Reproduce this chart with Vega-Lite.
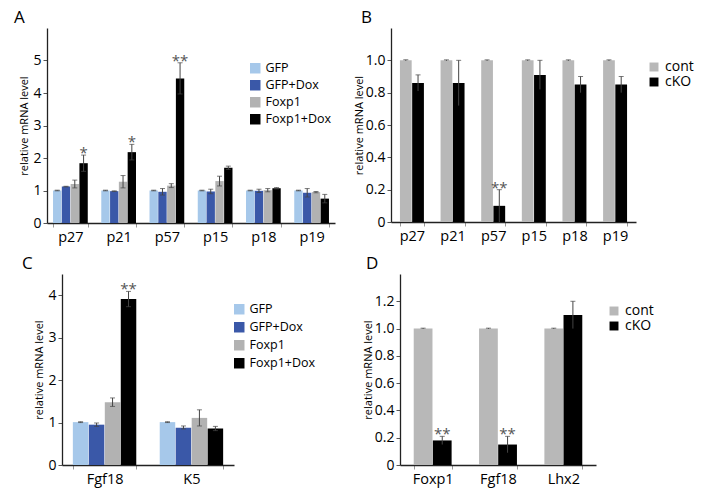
{
  "$schema": "https://vega.github.io/schema/vega-lite/v6.json",
  "padding": {"left": 13, "top": 9, "right": 5, "bottom": 5},
  "background": "white",
  "config": {
    "font": "Open Sans",
    "view": {"stroke": null},
    "title": {"fontSize": 17, "fontWeight": "normal", "anchor": "start", "frame": "group", "offset": 1, "color": "#000"},
    "axis": {"grid": false, "domainColor": "#222", "domainWidth": 1.3, "tickColor": "#555", "tickSize": 4, "labelFontSize": 14, "labelColor": "#000", "titleFontSize": 11, "titleFontWeight": "normal", "titleColor": "#000", "labelPadding": 2},
    "axisX": {"tickColor": "#999", "labelPadding": 3},
    "legend": {"labelFontSize": 12.5, "labelColor": "#000", "symbolType": "square", "symbolSize": 110, "symbolStrokeWidth": 0, "rowPadding": 4, "labelOffset": 4, "padding": 0}
  },
  "datasets": {
    "a": [
      {"gene": "p27", "group": "GFP", "value": 1.0, "lo": 0.99, "hi": 1.01},
      {"gene": "p27", "group": "GFP+Dox", "value": 1.12, "lo": 1.11, "hi": 1.13},
      {"gene": "p27", "group": "Foxp1", "value": 1.2, "lo": 1.08, "hi": 1.32},
      {"gene": "p27", "group": "Foxp1+Dox", "value": 1.84, "lo": 1.59, "hi": 2.09, "sig": "*"},
      {"gene": "p21", "group": "GFP", "value": 1.0, "lo": 0.99, "hi": 1.01},
      {"gene": "p21", "group": "GFP+Dox", "value": 0.98, "lo": 0.97, "hi": 0.99},
      {"gene": "p21", "group": "Foxp1", "value": 1.27, "lo": 1.08, "hi": 1.46},
      {"gene": "p21", "group": "Foxp1+Dox", "value": 2.18, "lo": 1.94, "hi": 2.42, "sig": "*"},
      {"gene": "p57", "group": "GFP", "value": 1.0, "lo": 0.99, "hi": 1.01},
      {"gene": "p57", "group": "GFP+Dox", "value": 0.96, "lo": 0.86, "hi": 1.06},
      {"gene": "p57", "group": "Foxp1", "value": 1.15, "lo": 1.09, "hi": 1.21},
      {"gene": "p57", "group": "Foxp1+Dox", "value": 4.45, "lo": 3.97, "hi": 4.93, "sig": "**"},
      {"gene": "p15", "group": "GFP", "value": 1.0, "lo": 0.99, "hi": 1.01},
      {"gene": "p15", "group": "GFP+Dox", "value": 0.97, "lo": 0.9, "hi": 1.04},
      {"gene": "p15", "group": "Foxp1", "value": 1.29, "lo": 1.14, "hi": 1.44},
      {"gene": "p15", "group": "Foxp1+Dox", "value": 1.7, "lo": 1.65, "hi": 1.75},
      {"gene": "p18", "group": "GFP", "value": 1.0, "lo": 0.99, "hi": 1.01},
      {"gene": "p18", "group": "GFP+Dox", "value": 0.99, "lo": 0.94, "hi": 1.04},
      {"gene": "p18", "group": "Foxp1", "value": 1.01, "lo": 0.96, "hi": 1.06},
      {"gene": "p18", "group": "Foxp1+Dox", "value": 1.07, "lo": 1.05, "hi": 1.09},
      {"gene": "p19", "group": "GFP", "value": 1.0, "lo": 0.99, "hi": 1.01},
      {"gene": "p19", "group": "GFP+Dox", "value": 0.93, "lo": 0.8, "hi": 1.06},
      {"gene": "p19", "group": "Foxp1", "value": 0.95, "lo": 0.93, "hi": 0.97},
      {"gene": "p19", "group": "Foxp1+Dox", "value": 0.75, "lo": 0.62, "hi": 0.88}
    ],
    "b": [
      {"gene": "p27", "group": "cont", "value": 1.0, "lo": 0.997, "hi": 1.003},
      {"gene": "p27", "group": "cKO", "value": 0.86, "lo": 0.81, "hi": 0.91},
      {"gene": "p21", "group": "cont", "value": 1.0, "lo": 0.997, "hi": 1.003},
      {"gene": "p21", "group": "cKO", "value": 0.86, "lo": 0.72, "hi": 1.0},
      {"gene": "p57", "group": "cont", "value": 1.0, "lo": 0.997, "hi": 1.003},
      {"gene": "p57", "group": "cKO", "value": 0.1, "lo": 0.0, "hi": 0.2, "sig": "**"},
      {"gene": "p15", "group": "cont", "value": 1.0, "lo": 0.997, "hi": 1.003},
      {"gene": "p15", "group": "cKO", "value": 0.91, "lo": 0.82, "hi": 1.0},
      {"gene": "p18", "group": "cont", "value": 1.0, "lo": 0.997, "hi": 1.003},
      {"gene": "p18", "group": "cKO", "value": 0.85, "lo": 0.8, "hi": 0.9},
      {"gene": "p19", "group": "cont", "value": 1.0, "lo": 0.997, "hi": 1.003},
      {"gene": "p19", "group": "cKO", "value": 0.85, "lo": 0.8, "hi": 0.9}
    ],
    "c": [
      {"gene": "Fgf18", "group": "GFP", "value": 1.01, "lo": 1.0, "hi": 1.02},
      {"gene": "Fgf18", "group": "GFP+Dox", "value": 0.95, "lo": 0.91, "hi": 0.99},
      {"gene": "Fgf18", "group": "Foxp1", "value": 1.48, "lo": 1.38, "hi": 1.58},
      {"gene": "Fgf18", "group": "Foxp1+Dox", "value": 3.91, "lo": 3.73, "hi": 4.09, "sig": "**"},
      {"gene": "K5", "group": "GFP", "value": 1.01, "lo": 1.0, "hi": 1.02},
      {"gene": "K5", "group": "GFP+Dox", "value": 0.88, "lo": 0.85, "hi": 0.92},
      {"gene": "K5", "group": "Foxp1", "value": 1.11, "lo": 0.92, "hi": 1.3},
      {"gene": "K5", "group": "Foxp1+Dox", "value": 0.86, "lo": 0.81, "hi": 0.91}
    ],
    "d": [
      {"gene": "Foxp1", "group": "cont", "value": 1.0, "lo": 0.997, "hi": 1.003},
      {"gene": "Foxp1", "group": "cKO", "value": 0.18, "lo": 0.15, "hi": 0.21, "sig": "**"},
      {"gene": "Fgf18", "group": "cont", "value": 1.0, "lo": 0.997, "hi": 1.003},
      {"gene": "Fgf18", "group": "cKO", "value": 0.15, "lo": 0.09, "hi": 0.21, "sig": "**"},
      {"gene": "Lhx2", "group": "cont", "value": 1.0, "lo": 0.997, "hi": 1.003},
      {"gene": "Lhx2", "group": "cKO", "value": 1.1, "lo": 1.0, "hi": 1.2}
    ]
  },
  "resolve": {"scale": {"color": "independent", "xOffset": "independent", "x": "independent", "y": "independent"}, "legend": {"color": "independent"}},
  "vconcat": [
    {
      "resolve": {"scale": {"color": "independent", "xOffset": "independent", "x": "independent", "y": "independent"}, "legend": {"color": "independent"}},
      "hconcat": [
        {
          "resolve": {"scale": {"color": "independent", "xOffset": "independent", "x": "independent", "y": "independent"}, "legend": {"color": "independent"}},
          "hconcat": [
            {"width": 1, "height": 1, "data": {"values": []}, "mark": "point"},
            {
              "width": 288, "height": 195,
              "title": {"text": "\u00a0\u00a0\u00a0\u00a0A", "dx": -33},
              "data": {"name": "a"},
              "encoding": {
                "x": {"field": "gene", "type": "nominal", "sort": ["p27", "p21", "p57", "p15", "p18", "p19"], "scale": {"paddingInner": 0.28, "paddingOuter": 0.125}, "axis": {"title": null, "labelAngle": 0, "tickBand": "extent", "labelFontSize": 14.5}},
                "xOffset": {"field": "group", "type": "nominal", "sort": ["GFP", "GFP+Dox", "Foxp1", "Foxp1+Dox"], "scale": {"paddingInner": 0.05}}
              },
              "layer": [
                {"mark": {"type": "bar"}, "encoding": {
                  "y": {"field": "value", "type": "quantitative", "scale": {"domain": [0, 6], "nice": false}, "axis": {"values": [0, 1, 2, 3, 4, 5], "title": "relative mRNA level", "titlePadding": 3}},
                  "color": {"field": "group", "type": "nominal", "scale": {"domain": ["GFP", "GFP+Dox", "Foxp1", "Foxp1+Dox"], "range": ["#a6c8ea", "#3a58a8", "#b2b2b2", "#000000"]},
                    "legend": {"title": null, "orient": "none", "legendX": 202, "legendY": 34}}
                }},
                {"mark": {"type": "rule", "color": "#444", "strokeWidth": 1}, "encoding": {"y": {"field": "lo", "type": "quantitative", "axis": {"values": [0, 1, 2, 3, 4, 5], "title": "relative mRNA level", "titlePadding": 3}}, "y2": {"field": "hi"}}},
                {"mark": {"type": "tick", "color": "#444", "thickness": 1, "size": 5}, "encoding": {"y": {"field": "hi", "type": "quantitative", "axis": {"values": [0, 1, 2, 3, 4, 5], "title": "relative mRNA level", "titlePadding": 3}}}},
                {"mark": {"type": "tick", "color": "#444", "thickness": 1, "size": 5}, "encoding": {"y": {"field": "lo", "type": "quantitative", "axis": {"values": [0, 1, 2, 3, 4, 5], "title": "relative mRNA level", "titlePadding": 3}}}},
                {"transform": [{"filter": "datum.sig"}], "mark": {"type": "text", "fontSize": 15, "color": "#555", "baseline": "alphabetic", "dy": 3}, "encoding": {"y": {"field": "hi", "type": "quantitative", "axis": {"values": [0, 1, 2, 3, 4, 5], "title": "relative mRNA level", "titlePadding": 3}}, "text": {"field": "sig"}}}
              ]
            }
          ],
          "spacing": 0
        },
        {
          "width": 245, "height": 194,
          "title": {"text": "B", "dx": -30},
          "data": {"name": "b"},
          "encoding": {
            "x": {"field": "gene", "type": "nominal", "sort": ["p27", "p21", "p57", "p15", "p18", "p19"], "scale": {"paddingInner": 0.41, "paddingOuter": 0.22}, "axis": {"title": null, "labelAngle": 0, "tickBand": "extent", "labelFontSize": 14.5}},
            "xOffset": {"field": "group", "type": "nominal", "sort": ["cont", "cKO"], "scale": {"paddingInner": 0.04}}
          },
          "layer": [
            {"mark": {"type": "bar"}, "encoding": {
              "y": {"field": "value", "type": "quantitative", "scale": {"domain": [0, 1.2], "nice": false}, "axis": {"values": [0, 0.2, 0.4, 0.6, 0.8, 1.0], "labelExpr": "datum.value === 0 ? '0' : format(datum.value, '.1f')", "title": "relative mRNA level", "titlePadding": 1}},
              "color": {"field": "group", "type": "nominal", "scale": {"domain": ["cont", "cKO"], "range": ["#b8b8b8", "#000000"]},
                "legend": {"title": null, "orient": "none", "legendX": 256, "legendY": 32, "labelFontSize": 14, "rowPadding": 1, "symbolSize": 80}}
            }},
            {"mark": {"type": "rule", "color": "#444", "strokeWidth": 1}, "encoding": {"y": {"field": "lo", "type": "quantitative", "axis": {"values": [0, 0.2, 0.4, 0.6, 0.8, 1.0], "labelExpr": "datum.value === 0 ? '0' : format(datum.value, '.1f')", "title": "relative mRNA level", "titlePadding": 1}}, "y2": {"field": "hi"}}},
            {"mark": {"type": "tick", "color": "#444", "thickness": 1, "size": 5}, "encoding": {"y": {"field": "hi", "type": "quantitative", "axis": {"values": [0, 0.2, 0.4, 0.6, 0.8, 1.0], "labelExpr": "datum.value === 0 ? '0' : format(datum.value, '.1f')", "title": "relative mRNA level", "titlePadding": 1}}}},
            {"transform": [{"filter": "datum.sig"}], "mark": {"type": "text", "fontSize": 15, "color": "#555", "baseline": "alphabetic", "dy": 3}, "encoding": {"y": {"field": "hi", "type": "quantitative", "axis": {"values": [0, 0.2, 0.4, 0.6, 0.8, 1.0], "labelExpr": "datum.value === 0 ? '0' : format(datum.value, '.1f')", "title": "relative mRNA level", "titlePadding": 1}}, "text": {"field": "sig"}}}
          ]
        }
      ],
      "spacing": 18
    },
    {
      "resolve": {"scale": {"color": "independent", "xOffset": "independent", "x": "independent", "y": "independent"}, "legend": {"color": "independent"}},
      "hconcat": [
        {
          "resolve": {"scale": {"color": "independent", "xOffset": "independent", "x": "independent", "y": "independent"}, "legend": {"color": "independent"}},
          "hconcat": [
            {"width": 1, "height": 1, "data": {"values": []}, "mark": "point"},
            {
              "width": 172, "height": 191,
              "title": {"text": "C", "dx": -40},
              "data": {"name": "c"},
              "encoding": {
                "x": {"field": "gene", "type": "nominal", "sort": ["Fgf18", "K5"], "scale": {"paddingInner": 0.27, "paddingOuter": 0.125}, "axis": {"title": null, "labelAngle": 0, "tickBand": "extent", "labelFontSize": 14.5}},
                "xOffset": {"field": "group", "type": "nominal", "sort": ["GFP", "GFP+Dox", "Foxp1", "Foxp1+Dox"], "scale": {"paddingInner": 0.03}}
              },
              "layer": [
                {"mark": {"type": "bar"}, "encoding": {
                  "y": {"field": "value", "type": "quantitative", "scale": {"domain": [0, 4.5], "nice": false}, "axis": {"values": [0, 1, 2, 3, 4], "title": "relative mRNA level", "titlePadding": 3}},
                  "color": {"field": "group", "type": "nominal", "scale": {"domain": ["GFP", "GFP+Dox", "Foxp1", "Foxp1+Dox"], "range": ["#a6c8ea", "#3a58a8", "#b2b2b2", "#000000"]},
                    "legend": {"title": null, "orient": "none", "legendX": 171, "legendY": 29, "rowPadding": 5}}
                }},
                {"mark": {"type": "rule", "color": "#444", "strokeWidth": 1}, "encoding": {"y": {"field": "lo", "type": "quantitative", "axis": {"values": [0, 1, 2, 3, 4], "title": "relative mRNA level", "titlePadding": 3}}, "y2": {"field": "hi"}}},
                {"mark": {"type": "tick", "color": "#444", "thickness": 1, "size": 5}, "encoding": {"y": {"field": "hi", "type": "quantitative", "axis": {"values": [0, 1, 2, 3, 4], "title": "relative mRNA level", "titlePadding": 3}}}},
                {"mark": {"type": "tick", "color": "#444", "thickness": 1, "size": 5}, "encoding": {"y": {"field": "lo", "type": "quantitative", "axis": {"values": [0, 1, 2, 3, 4], "title": "relative mRNA level", "titlePadding": 3}}}},
                {"transform": [{"filter": "datum.sig"}], "mark": {"type": "text", "fontSize": 15, "color": "#555", "baseline": "alphabetic", "dy": 3}, "encoding": {"y": {"field": "hi", "type": "quantitative", "axis": {"values": [0, 1, 2, 3, 4], "title": "relative mRNA level", "titlePadding": 3}}, "text": {"field": "sig"}}}
              ]
            }
          ],
          "spacing": 8
        },
        {
          "width": 196, "height": 191,
          "title": {"text": "D", "dx": -34},
          "data": {"name": "d"},
          "encoding": {
            "x": {"field": "gene", "type": "nominal", "sort": ["Foxp1", "Fgf18", "Lhx2"], "scale": {"paddingInner": 0.42, "paddingOuter": 0.21}, "axis": {"title": null, "labelAngle": 0, "tickBand": "extent", "labelFontSize": 14.5}},
            "xOffset": {"field": "group", "type": "nominal", "sort": ["cont", "cKO"], "scale": {"paddingInner": 0.02}}
          },
          "layer": [
            {"mark": {"type": "bar"}, "encoding": {
              "y": {"field": "value", "type": "quantitative", "scale": {"domain": [0, 1.4], "nice": false}, "axis": {"values": [0, 0.2, 0.4, 0.6, 0.8, 1.0, 1.2], "labelExpr": "datum.value === 0 ? '0' : format(datum.value, '.1f')", "title": "relative mRNA level", "titlePadding": 1}},
              "color": {"field": "group", "type": "nominal", "scale": {"domain": ["cont", "cKO"], "range": ["#b8b8b8", "#000000"]},
                "legend": {"title": null, "orient": "none", "legendX": 207, "legendY": 30, "labelFontSize": 14, "rowPadding": 1, "symbolSize": 80}}
            }},
            {"mark": {"type": "rule", "color": "#444", "strokeWidth": 1}, "encoding": {"y": {"field": "lo", "type": "quantitative", "axis": {"values": [0, 0.2, 0.4, 0.6, 0.8, 1.0, 1.2], "labelExpr": "datum.value === 0 ? '0' : format(datum.value, '.1f')", "title": "relative mRNA level", "titlePadding": 1}}, "y2": {"field": "hi"}}},
            {"mark": {"type": "tick", "color": "#444", "thickness": 1, "size": 5}, "encoding": {"y": {"field": "hi", "type": "quantitative", "axis": {"values": [0, 0.2, 0.4, 0.6, 0.8, 1.0, 1.2], "labelExpr": "datum.value === 0 ? '0' : format(datum.value, '.1f')", "title": "relative mRNA level", "titlePadding": 1}}}},
            {"transform": [{"filter": "datum.sig"}], "mark": {"type": "text", "fontSize": 15, "color": "#555", "baseline": "alphabetic", "dy": 3}, "encoding": {"y": {"field": "hi", "type": "quantitative", "axis": {"values": [0, 0.2, 0.4, 0.6, 0.8, 1.0, 1.2], "labelExpr": "datum.value === 0 ? '0' : format(datum.value, '.1f')", "title": "relative mRNA level", "titlePadding": 1}}, "text": {"field": "sig"}}}
          ]
        }
      ],
      "spacing": 46
    }
  ],
  "spacing": 11
}
